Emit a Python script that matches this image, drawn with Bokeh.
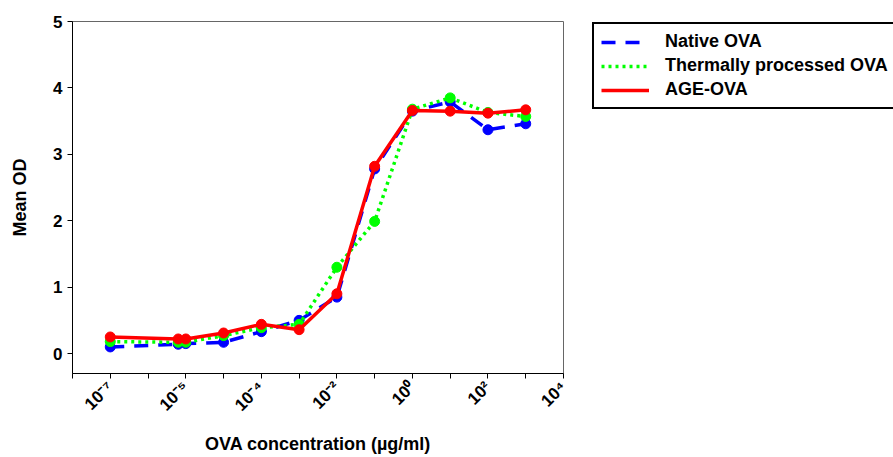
from bokeh.plotting import figure
from bokeh.models import Range1d, FixedTicker, Legend, LegendItem, ColumnDataSource
from bokeh.layouts import row
from bokeh.embed import file_html
from bokeh.resources import INLINE
import math

# positions along the (category-like) concentration axis
x_pos = [1, 2.8, 3, 4, 5, 6, 7, 8, 9, 10, 11, 12]
native_ova = [0.10, 0.14, 0.15, 0.17, 0.33, 0.50, 0.85, 2.78, 3.65, 3.79, 3.37, 3.46]
thermal_ova = [0.18, 0.17, 0.17, 0.27, 0.39, 0.44, 1.30, 1.99, 3.68, 3.85, 3.63, 3.57]
age_ova = [0.25, 0.22, 0.22, 0.31, 0.44, 0.36, 0.90, 2.82, 3.66, 3.65, 3.62, 3.67]

series_names = ["Native OVA", "Thermally processed OVA", "AGE-OVA"]
x_tick_positions = list(range(0, 14))
x_tick_labels = {1: "10⁻⁷", 3: "10⁻⁵", 5: "10⁻⁴", 7: "10⁻²", 9: "10⁰", 11: "10²", 13: "10⁴"}
y_ticks = [0, 1, 2, 3, 4, 5]

FONT = "Liberation Sans"
styles = [dict(line_color="#0000FF", line_width=3.5, line_dash="14 10"),
          dict(line_color="#00FF00", line_width=3.5, line_dash="3 4"),
          dict(line_color="#FF0000", line_width=3.5, line_dash="solid")]

p = figure(width=580, height=457, output_backend="svg", toolbar_location=None,
           x_range=Range1d(0, 13), y_range=Range1d(-0.3, 5),
           min_border_left=72, min_border_right=17, min_border_top=21, min_border_bottom=84)
p.grid.visible = False
p.outline_line_color = "#666666"
p.outline_line_width = 1
p.background_fill_color = "white"
p.border_fill_color = "white"

# axes
p.xaxis.ticker = FixedTicker(ticks=x_tick_positions)
p.xaxis.major_label_overrides = {k: x_tick_labels.get(k, "") for k in x_tick_positions}
p.xaxis.major_label_orientation = math.pi / 4
p.xaxis.minor_tick_line_color = None
p.xaxis.major_tick_in = 0
p.xaxis.major_tick_out = 5
p.xaxis.major_label_standoff = 6
p.xaxis.axis_label = "OVA concentration (µg/ml)"
p.xaxis.axis_label_standoff = 10

p.yaxis.ticker = FixedTicker(ticks=y_ticks)
p.yaxis.minor_tick_line_color = None
p.yaxis.major_tick_in = 0
p.yaxis.major_tick_out = 5
p.yaxis.major_label_standoff = 5
p.yaxis.axis_label = "Mean OD"
p.yaxis.axis_label_standoff = 20

for ax in (p.xaxis, p.yaxis):
    ax.axis_line_color = "black"
    ax.major_tick_line_color = "black"
    ax.major_label_text_font = FONT
    ax.major_label_text_font_style = "bold"
    ax.major_label_text_font_size = "17px"
    ax.major_label_text_color = "black"
    ax.axis_label_text_font = FONT
    ax.axis_label_text_font_style = "bold"
    ax.axis_label_text_font_size = "18px"
    ax.axis_label_text_color = "black"

src = ColumnDataSource(dict(x=x_pos, native=native_ova, thermal=thermal_ova, age=age_ova))
for col, st in zip(["native", "thermal", "age"], styles):
    p.line("x", col, source=src, **st)
    p.scatter("x", col, source=src, size=10, fill_color=st["line_color"], line_color=st["line_color"])

# legend panel (separate figure so the box may run past the window edge)
p2 = figure(width=313, height=457, output_backend="svg", toolbar_location=None,
            x_range=Range1d(0, 1), y_range=Range1d(0, 1),
            min_border_left=11, min_border_right=0, min_border_top=0, min_border_bottom=0)
p2.axis.visible = False
p2.grid.visible = False
p2.outline_line_color = None
p2.background_fill_color = "white"
p2.border_fill_color = "white"

# legend-only proxies drawn outside the visible range of the legend panel
proxy_src = ColumnDataSource(dict(x=[5, 6], y=[5, 5]))
items = []
for name, st in zip(series_names, styles):
    r = p2.line("x", "y", source=proxy_src, **st)
    items.append(LegendItem(label=name, renderers=[r]))

legend = Legend(items=items, location="top_left")
legend.label_text_font = FONT
legend.label_text_font_style = "bold"
legend.label_text_font_size = "18px"
legend.label_text_color = "black"
legend.glyph_width = 48
legend.glyph_height = 20
legend.label_height = 20
legend.spacing = 3
legend.padding = 7
legend.margin = 1
legend.label_standoff = 16
legend.border_line_color = "black"
legend.border_line_alpha = 1
legend.border_line_width = 2
legend.background_fill_alpha = 1
p2.add_layout(legend, "center")

layout = row(p, p2, spacing=0)
open("out.html", "w").write(file_html(layout, INLINE))
